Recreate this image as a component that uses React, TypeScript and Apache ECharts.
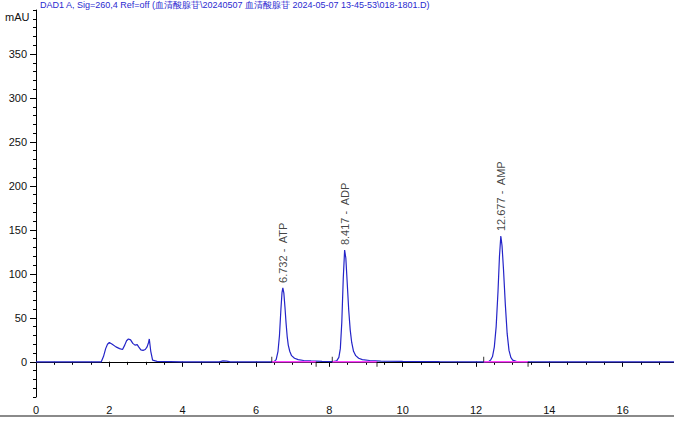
import React, { useEffect, useRef } from "react";
import * as echarts from "echarts";

const TIME = [
  0, 1.0, 1.78, 1.84, 1.9, 1.95, 2.0, 2.08, 2.18, 2.28, 2.36, 2.42, 2.47, 2.52, 2.58, 2.64, 2.7, 2.76, 2.8, 2.86,
  2.92, 2.98, 3.03, 3.07, 3.09, 3.13, 3.18, 3.3, 4.0, 5.0, 5.1, 5.2, 5.3, 6.4,
  6.5, 6.55, 6.6, 6.64, 6.68, 6.71, 6.732, 6.76, 6.79, 6.82, 6.85, 6.88, 6.92, 6.97, 7.05, 7.15, 7.3, 7.5, 7.8,
  8.1, 8.2, 8.26, 8.3, 8.34, 8.38, 8.417, 8.45, 8.49, 8.53, 8.57, 8.61, 8.66, 8.72, 8.8, 8.9, 9.1, 9.4, 10.0, 11.0,
  12.2, 12.35, 12.4, 12.45, 12.5, 12.55, 12.6, 12.64, 12.677, 12.71, 12.75, 12.8, 12.85, 12.9, 12.95, 13.0, 13.1,
  13.4, 14.0, 17.4,
];
const SIGNAL = [
  0, 0, 0, 6, 15, 20, 22, 20, 17, 15, 14, 19, 24, 26, 25, 21, 19, 19.5, 17, 13.5,
  13, 14, 17, 22, 26, 12, 2, 0.5, 0, 0, 1, 0.8, 0, 0,
  0.5, 2.5, 12, 30, 60, 79, 84, 78, 62, 44, 29, 19, 12, 7, 4, 2.5, 1.5, 1, 0.6,
  0.3, 1, 5, 15, 45, 95, 127, 118, 88, 58, 36, 22, 12, 7, 4, 2.5, 1.5, 0.8, 0.5, 0.2,
  0, 0.5, 2, 6, 17, 40, 80, 120, 143, 132, 105, 65, 32, 13, 5, 2, 0.6,
  0.2, 0, 0,
];
const PEAK_TIMES = [6.732, 8.417, 12.677];
const PEAK_HEIGHTS = [84, 127, 143];
const PEAK_NAMES = ["ATP", "ADP", "AMP"];
const BASE_START = [6.43, 8.08, 12.21];
const BASE_END = [7.64, 9.3, 13.42];
const X_LABELS = [0, 2, 4, 6, 8, 10, 12, 14, 16];
const Y_LABELS = [0, 50, 100, 150, 200, 250, 300, 350];
const TITLE =
  "DAD1 A, Sig=260,4 Ref=off (血清酸腺苷\\20240507 血清酸腺苷 2024-05-07 13-45-53\\018-1801.D)";

export default function App() {
  const ref = useRef<HTMLDivElement>(null);
  useEffect(() => {
    if (!ref.current) return;
    const chart = echarts.init(ref.current, undefined, { renderer: "svg" });
    const font = "Arial, 'Liberation Sans', sans-serif";
    const baseSeries = BASE_START.map((s, i) => ({
      type: "line",
      data: [
        [s, 0],
        [BASE_END[i], 0],
      ],
      showSymbol: false,
      silent: true,
      lineStyle: { color: "#ff40ff", width: 1.6 },
      z: 3,
    }));
    chart.setOption({
      animation: false,
      grid: { left: 36, right: 0, top: 10, bottom: 39 },
      xAxis: [
        {
          type: "value",
          min: 0,
          max: 17.4,
          position: "bottom",
          axisLine: { lineStyle: { color: "#000", width: 1 } },
          axisTick: { length: 5, customValues: X_LABELS, lineStyle: { color: "#000" } },
          axisLabel: { customValues: X_LABELS, fontSize: 11, color: "#111", fontFamily: font, margin: 7 },
          splitLine: { show: false },
        },
        {
          type: "value",
          min: 0,
          max: 17.4,
          interval: 0.5,
          position: "bottom",
          axisLine: { show: false },
          axisTick: { length: 3, lineStyle: { color: "#000" } },
          axisLabel: { show: false },
          splitLine: { show: false },
        },
      ],
      yAxis: [
        {
          type: "value",
          min: -40,
          max: 400,
          position: "left",
          axisLine: { lineStyle: { color: "#000", width: 1 } },
          axisTick: { length: 6, customValues: Y_LABELS, lineStyle: { color: "#000" } },
          axisLabel: { customValues: Y_LABELS, fontSize: 11, color: "#111", fontFamily: font, margin: 9 },
          splitLine: { show: false },
        },
        {
          type: "value",
          min: -40,
          max: 400,
          interval: 10,
          position: "left",
          axisLine: { show: false },
          axisTick: { length: 3, lineStyle: { color: "#000" } },
          axisLabel: { show: false },
          splitLine: { show: false },
        },
      ],
      series: [
        {
          type: "line",
          data: TIME.map((t, i) => [t, SIGNAL[i]]),
          showSymbol: false,
          lineStyle: { color: "#2424c8", width: 1.2 },
          z: 2,
        },
        ...baseSeries,
        {
          type: "scatter",
          data: BASE_START.map((s) => [s, 0]),
          symbol: "rect",
          symbolSize: [1, 5],
          symbolOffset: [0, -2.5],
          itemStyle: { color: "#000" },
          z: 4,
        },
        {
          type: "scatter",
          data: BASE_END.map((s) => [s, 0]),
          symbol: "rect",
          symbolSize: [1, 5],
          symbolOffset: [0, 2.5],
          itemStyle: { color: "#000" },
          z: 4,
        },
        {
          type: "scatter",
          data: PEAK_TIMES.map((t, i) => ({ value: [t, PEAK_HEIGHTS[i]], name: PEAK_NAMES[i] })),
          symbolSize: 0,
          label: {
            show: true,
            position: "top",
            distance: 5,
            rotate: 90,
            align: "left",
            verticalAlign: "middle",
            fontSize: 11,
            fontFamily: font,
            color: "#111",
            formatter: (p: any) => `${p.value[0].toFixed(3)} -  ${p.name}`,
          },
          z: 5,
        },
      ],
      graphic: [
        {
          type: "text",
          left: 40,
          top: 0,
          style: { text: TITLE, fontSize: 9, fontFamily: font, fill: "#2a2ad0" },
        },
        {
          type: "text",
          left: 5,
          top: 11,
          style: { text: "mAU", fontSize: 11, fontFamily: font, fill: "#111" },
        },
        {
          type: "rect",
          left: 0,
          top: 415,
          shape: { width: 674, height: 2 },
          style: { fill: "#8a8a8a" },
        },
      ],
    });
    return () => chart.dispose();
  }, []);
  return (
    <div
      ref={ref}
      style={{ position: "absolute", left: 0, top: 0, width: 674, height: 436, background: "#fff" }}
    />
  );
}
